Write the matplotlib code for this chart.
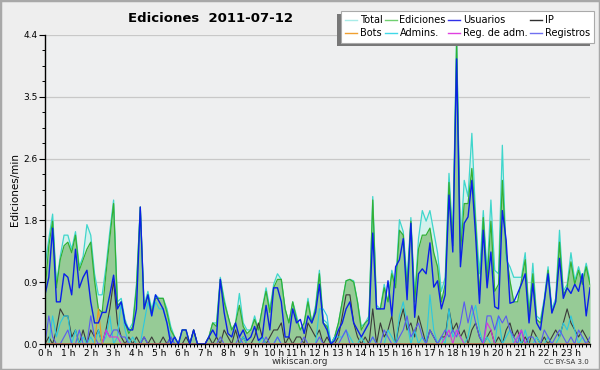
import numpy as np
import matplotlib
matplotlib.use("Agg")
import matplotlib.pyplot as plt
from matplotlib.lines import Line2D
from matplotlib.patches import Rectangle

# ---- data (edits per minute, 10-minute buckets) ----
ediciones = [0.75,1.4,1.75,0.8,1.2,1.4,1.45,1.3,1.55,1.05,1.2,1.35,
             1.45,0.9,0.5,0.45,1.0,1.5,2.0,0.55,0.6,0.3,0.15,0.25,
             0.8,1.95,0.5,0.7,0.45,0.65,0.65,0.65,0.45,0.2,0.1,0.0,
             0.2,0.2,0.0,0.2,0.0,0.0,0.0,0.1,0.3,0.25,0.92,0.6,
             0.4,0.2,0.3,0.55,0.25,0.15,0.2,0.35,0.2,0.5,0.75,0.45,
             0.8,0.92,0.92,0.5,0.3,0.6,0.35,0.2,0.3,0.6,0.3,0.5,
             1.0,0.3,0.25,0.0,0.1,0.3,0.6,0.9,0.92,0.88,0.6,0.2,
             0.3,0.35,2.05,0.5,0.5,0.8,0.6,1.0,0.8,1.62,1.55,0.8,
             1.75,0.6,1.35,1.55,1.55,1.65,1.3,1.1,0.6,0.85,2.3,1.4,
             4.3,1.3,2.0,2.0,2.5,1.7,0.7,1.8,0.9,1.75,0.75,0.85,
             2.33,1.3,0.9,0.6,0.6,0.9,1.2,0.4,1.0,0.35,0.3,0.6,
             1.05,0.45,0.6,1.45,0.7,0.8,1.17,0.85,1.05,0.85,1.1,0.85]
total = [1.1,1.5,1.85,0.85,1.25,1.55,1.55,1.35,1.6,1.1,1.25,1.7,
         1.55,1.0,0.7,0.7,1.1,1.6,2.05,0.6,0.65,0.35,0.2,0.3,
         0.85,1.95,0.55,0.75,0.5,0.7,0.65,0.65,0.5,0.25,0.1,0.0,
         0.2,0.2,0.0,0.2,0.0,0.0,0.0,0.1,0.3,0.3,0.95,0.65,
         0.4,0.2,0.3,0.72,0.3,0.2,0.2,0.4,0.2,0.5,0.8,0.5,
         0.85,1.0,0.92,0.5,0.3,0.6,0.4,0.2,0.3,0.65,0.3,0.55,
         1.05,0.35,0.3,0.0,0.1,0.3,0.6,0.9,0.92,0.9,0.6,0.25,
         0.3,0.4,2.1,0.55,0.5,0.85,0.6,1.05,0.85,1.77,1.6,0.9,
         1.8,0.65,1.5,1.9,1.75,1.9,1.6,1.3,0.75,0.95,2.43,1.5,
         4.4,1.4,2.33,2.1,3.0,1.8,1.0,1.9,1.0,2.05,1.05,1.0,
         2.83,1.2,1.1,0.95,0.95,0.95,1.3,0.45,1.15,0.4,0.35,0.65,
         1.1,0.5,0.65,1.62,0.75,0.85,1.3,0.9,1.1,0.9,1.15,0.9]
usuarios = [0.7,0.95,1.65,0.6,0.6,1.0,0.95,0.7,1.35,0.8,0.95,1.05,
            0.6,0.3,0.3,0.45,0.45,0.7,0.98,0.5,0.6,0.3,0.2,0.2,
            0.5,1.95,0.5,0.7,0.4,0.7,0.6,0.5,0.3,0.0,0.1,0.0,
            0.2,0.2,0.0,0.2,0.0,0.0,0.0,0.1,0.2,0.1,0.92,0.45,
            0.15,0.1,0.3,0.1,0.2,0.05,0.1,0.25,0.05,0.1,0.55,0.2,
            0.8,0.8,0.6,0.1,0.1,0.5,0.3,0.35,0.15,0.4,0.3,0.45,
            0.85,0.3,0.2,0.0,0.05,0.2,0.3,0.5,0.6,0.3,0.2,0.1,
            0.2,0.3,1.58,0.5,0.5,0.5,0.9,0.4,1.1,1.2,1.5,0.63,
            1.72,0.38,1.0,1.07,1.0,1.44,0.81,0.9,0.5,0.7,2.12,1.31,
            4.06,1.1,1.72,1.81,2.33,1.53,0.58,1.62,0.8,1.31,0.53,0.5,
            1.9,1.48,0.58,0.6,0.72,0.85,1.0,0.3,0.86,0.3,0.2,0.6,
            1.0,0.44,0.6,1.22,0.65,0.8,0.72,0.85,0.75,1.0,0.4,0.8]
ip = [0.0,0.1,0.0,0.2,0.5,0.4,0.4,0.1,0.2,0.0,0.2,0.0,
      0.2,0.1,0.2,0.0,0.2,0.5,0.9,0.3,0.1,0.0,0.1,0.0,
      0.1,0.0,0.1,0.0,0.1,0.0,0.0,0.1,0.0,0.1,0.0,0.0,
      0.0,0.1,0.0,0.2,0.0,0.0,0.0,0.1,0.0,0.1,0.0,0.2,
      0.1,0.0,0.2,0.0,0.1,0.0,0.0,0.1,0.3,0.1,0.0,0.1,
      0.2,0.2,0.3,0.0,0.1,0.0,0.1,0.1,0.0,0.3,0.2,0.1,
      0.2,0.0,0.1,0.0,0.0,0.1,0.4,0.7,0.7,0.3,0.1,0.0,
      0.1,0.0,0.5,0.0,0.3,0.1,0.2,0.4,0.0,0.3,0.5,0.2,
      0.3,0.1,0.4,0.2,0.0,0.2,0.1,0.0,0.1,0.1,0.5,0.2,
      0.3,0.1,0.2,0.0,0.2,0.3,0.1,0.0,0.1,0.2,0.0,0.1,
      0.0,0.2,0.3,0.1,0.2,0.0,0.1,0.0,0.2,0.1,0.0,0.1,
      0.0,0.1,0.2,0.1,0.3,0.5,0.3,0.2,0.1,0.2,0.1,0.0]
admins = [0.0,0.0,0.4,0.1,0.3,0.4,0.4,0.0,0.2,0.0,0.1,0.0,
          0.1,0.0,0.2,0.0,0.1,0.4,0.0,0.1,0.6,0.2,0.0,0.1,
          0.0,0.0,0.3,0.6,0.4,0.6,0.5,0.5,0.3,0.1,0.0,0.0,
          0.0,0.0,0.0,0.0,0.0,0.0,0.0,0.0,0.0,0.0,0.0,0.0,
          0.0,0.0,0.0,0.0,0.1,0.0,0.0,0.0,0.0,0.1,0.0,0.0,
          0.0,0.1,0.0,0.0,0.0,0.0,0.0,0.0,0.0,0.0,0.0,0.0,
          0.5,0.5,0.4,0.0,0.1,0.1,0.1,0.2,0.1,0.0,0.0,0.1,
          0.0,0.0,0.1,0.0,0.0,0.0,0.2,0.1,0.0,0.4,0.6,0.3,
          0.0,0.2,0.0,0.1,0.0,0.7,0.2,0.0,0.1,0.0,0.5,0.1,
          0.2,0.1,0.0,0.1,0.4,0.55,0.2,0.0,0.1,0.0,0.0,0.4,
          0.0,0.1,0.2,0.0,0.1,0.0,0.2,0.0,0.0,0.1,0.0,0.0,
          0.1,0.0,0.0,0.1,0.3,0.2,0.4,0.2,0.0,0.1,0.0,0.0]
registros = [0.0,0.4,0.1,0.0,0.0,0.1,0.2,0.0,0.0,0.2,0.0,0.0,
             0.4,0.1,0.0,0.0,0.2,0.1,0.2,0.2,0.1,0.1,0.0,0.0,
             0.0,0.0,0.1,0.0,0.0,0.0,0.0,0.0,0.0,0.1,0.0,0.0,
             0.0,0.0,0.0,0.0,0.0,0.0,0.0,0.0,0.0,0.0,0.1,0.0,
             0.0,0.0,0.0,0.1,0.0,0.0,0.0,0.0,0.0,0.0,0.1,0.0,
             0.0,0.1,0.0,0.0,0.0,0.0,0.0,0.0,0.1,0.0,0.0,0.0,
             0.1,0.0,0.0,0.0,0.0,0.0,0.1,0.2,0.0,0.0,0.0,0.0,
             0.0,0.0,0.1,0.0,0.0,0.2,0.1,0.0,0.0,0.1,0.2,0.4,
             0.1,0.2,0.3,0.1,0.0,0.2,0.1,0.0,0.1,0.2,0.1,0.2,
             0.1,0.3,0.6,0.3,0.55,0.3,0.1,0.0,0.4,0.4,0.2,0.4,
             0.3,0.4,0.2,0.1,0.0,0.2,0.0,0.1,0.1,0.0,0.0,0.2,
             0.1,0.0,0.1,0.2,0.1,0.0,0.1,0.0,0.2,0.1,0.0,0.1]
bots = [0.0]*13 + [0.0, 0.5] + [0.0]*129
reg_adm = ([0.0]*16 + [0.2,0.1,0.1,0.1] + [0.0]*85 +
           [0.1,0.2,0.0,0.2,0.1] + [0.0]*6 + [0.3,0.2] + [0.0]*6 +
           [0.1,0.2] + [0.0]*18)
hour_labels = [f"{h} h" for h in range(24)]

n = len(ediciones)
x = np.arange(n) / 6.0

fig = plt.figure(figsize=(6, 3.7), dpi=100, facecolor="#eeeeee")
ax = fig.add_axes([45/600, 1-344/370, 545/600, 309/370])
ax.set_facecolor("#eeeff0")

c_total = "#3fd6cc"
c_edit = "#33b033"
ax.fill_between(x, 0, total, color="#d3f1ec", lw=0, zorder=1)
ax.fill_between(x, 0, ediciones, color="#96cb96", lw=0, zorder=2)
ax.plot(x, total, color=c_total, lw=0.9, zorder=3)
ax.plot(x, ediciones, color=c_edit, lw=0.9, zorder=4)
ax.plot(x, ip, color="#3a3a3a", lw=0.8, zorder=5)
ax.plot(x, admins, color="#2cc8e0", lw=0.8, zorder=5)
ax.plot(x, registros, color="#5a5af0", lw=0.8, zorder=5)
ax.plot(x, reg_adm, color="#d838d8", lw=0.8, zorder=5)
ax.plot(x, bots, color="#f09a20", lw=0.8, zorder=5)
ax.plot(x, usuarios, color="#0a20e8", lw=1.0, zorder=6)

ax.set_xlim(0, x[-1])
ax.set_ylim(0, 4.4)
yt = [0, 0.88, 1.76, 2.64, 3.52, 4.4]
ax.set_yticks(yt)
ax.set_yticklabels(["0.0", "0.9", "1.8", "2.6", "3.5", "4.4"])
ax.set_yticks(np.arange(0, 4.41, 0.22), minor=True)
ax.set_xticks(np.arange(24))
ax.set_xticklabels(hour_labels)
ax.set_xticks(x, minor=True)
ax.grid(axis="y", color="#c8c8c8", lw=0.9)
ax.set_axisbelow(True)
for s in ["top", "right"]:
    ax.spines[s].set_visible(False)
for s in ["left", "bottom"]:
    ax.spines[s].set_linewidth(1.0)
    ax.spines[s].set_zorder(10)
ax.tick_params(axis="y", which="major", length=4, width=0.8, labelsize=6.5,
               pad=1.0, colors="black")
ax.tick_params(axis="x", which="major", length=3, width=0.8, labelsize=6.5,
               pad=0.5, colors="black")
ax.tick_params(axis="both", which="minor", length=2.5, width=0.7)
ax.set_ylabel("Ediciones/min", fontsize=7.5, labelpad=3)

fig.text(210/600, 1-18/370, "Ediciones  2011-07-12", ha="center", va="center",
         fontsize=9.5, fontweight="bold")
fig.text(300/600, 1-362/370, "wikiscan.org", ha="center", va="center", fontsize=6.5,
         color="#333333")
fig.text(589/600, 1-362/370, "CC BY-SA 3.0", ha="right", va="center", fontsize=5,
         color="#333333")

handles = [Line2D([], [], color="#a8ece8", lw=1),
           Line2D([], [], color="#f0a030", lw=1),
           Line2D([], [], color="#70d070", lw=1),
           Line2D([], [], color="#40d8e8", lw=1),
           Line2D([], [], color="#3030e8", lw=1),
           Line2D([], [], color="#e040e0", lw=1),
           Line2D([], [], color="#303030", lw=1),
           Line2D([], [], color="#7070f0", lw=1)]
labels = ["Total", "Bots", "Ediciones", "Admins.", "Usuarios", "Reg. de adm.",
          "IP", "Registros"]
leg = fig.legend(handles, labels, loc="upper right", ncol=4,
                 bbox_to_anchor=(594/600, 1-11/370), fontsize=7,
                 frameon=True, fancybox=False, shadow=False,
                 handlelength=1.2, handletextpad=0.3, columnspacing=0.25,
                 borderpad=0.45, labelspacing=0.3, borderaxespad=0)
leg.get_frame().set_edgecolor("#aaaaaa")
leg.get_frame().set_linewidth(0.8)
leg.get_frame().set_facecolor("white")
leg.get_frame().set_alpha(1)
leg.set_zorder(20)

fig.canvas.draw()
bb = leg.get_window_extent().transformed(fig.transFigure.inverted())
fig.patches.append(Rectangle((bb.x0 - 4/600, bb.y0 - 3/370), bb.width, bb.height,
                             transform=fig.transFigure, facecolor="#777777",
                             edgecolor="none", zorder=19))

fig.patches.append(Rectangle((0, 0), 1, 1, transform=fig.transFigure,
                             fill=False, edgecolor="#a8a8a8", lw=2.5))
fig.savefig("out.png", dpi=100, facecolor=fig.get_facecolor())
